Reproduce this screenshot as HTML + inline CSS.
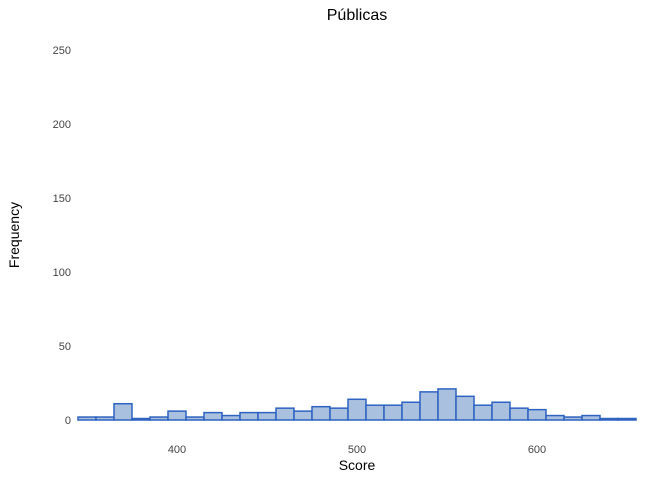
<!DOCTYPE html>
<html><head><meta charset="utf-8"><style>
body{margin:0;background:#fff;font-family:"Liberation Sans",sans-serif}
</style></head><body>
<svg id="chart" width="672" height="480" xmlns="http://www.w3.org/2000/svg">
<text x="357" y="20" font-size="16" text-anchor="middle" fill="#000">Públicas</text>
<text x="357" y="470" font-size="14" text-anchor="middle" fill="#000">Score</text>
<text transform="translate(19,235) rotate(-90)" font-size="14" text-anchor="middle" fill="#000">Frequency</text>
<g id="bars"></g><g id="xt"></g><g id="yt"></g>
</svg>
<script>
const binStarts=[345,355,365,375,385,395,405,415,425,435,445,455,465,475,485,495,505,515,525,535,545,555,565,575,585,595,605,615,625,635,645];
const counts=[2,2,11,1,2,6,2,5,3,5,5,8,6,9,8,14,10,10,12,19,21,16,10,12,8,7,3,2,3,1,1];
const xTicks=[400,500,600];
const yTicks=[0,50,100,150,200,250];
const binWidth=10;
const NS="http://www.w3.org/2000/svg";
function xs(v){return 177+(v-400)*1.8;}
function ys(v){return 420-v*1.48;}
const bars=document.getElementById('bars');
binStarts.forEach((b,i)=>{
  const r=document.createElementNS(NS,'rect');
  r.setAttribute('x',xs(b));r.setAttribute('width',binWidth*1.8);
  r.setAttribute('y',ys(counts[i]));r.setAttribute('height',ys(0)-ys(counts[i]));
  r.setAttribute('fill','#aac0df');r.setAttribute('stroke','#2e63c0');r.setAttribute('stroke-width','1.5');
  
  
  bars.appendChild(r);
});
const xt=document.getElementById('xt');
xTicks.forEach(t=>{
  const e=document.createElementNS(NS,'text');
  e.setAttribute('x',xs(t));e.setAttribute('y',453);e.setAttribute('font-size','11');
  e.setAttribute('text-anchor','middle');e.setAttribute('fill','#444');e.textContent=t;
  
  
  xt.appendChild(e);
});
const yt=document.getElementById('yt');
yTicks.forEach(t=>{
  const e=document.createElementNS(NS,'text');
  e.setAttribute('x',71);e.setAttribute('y',ys(t)+4);e.setAttribute('font-size','11');
  e.setAttribute('text-anchor','end');e.setAttribute('fill','#444');e.textContent=t;
  
  
  yt.appendChild(e);
});
</script>
</body></html>
